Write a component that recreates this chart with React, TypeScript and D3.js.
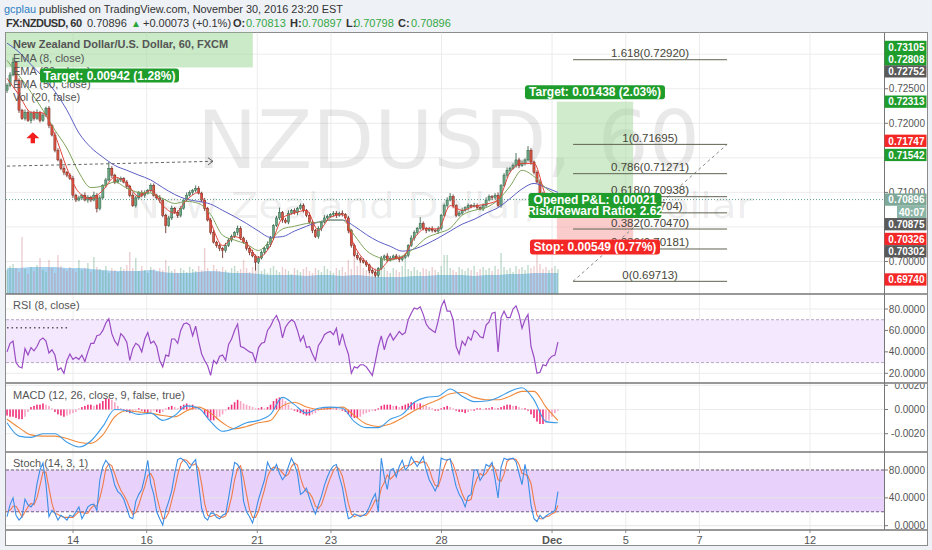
import React from "react";
import * as d3 from "d3";

// ---------------- data ----------------
// time axis (trading-day units, 0 = Nov 14)
const timeTickDays = [0, 2, 5, 7, 10, 13, 15, 17, 20];
const timeTickLabels = ["14", "16", "21", "23", "28", "Dec", "5", "7", "12"];
const firstBarDay = -1.79;
const lastBarDay = 13.16;
const COARSE_STEP = 4; // smooth series sampled every 4 bars
const PIP = 0.0001;

const firstOpen = 0.7248;
const closes = [
  0.7255, 0.727, 0.7288, 0.7262, 0.7219, 0.7207, 0.7216, 0.7204, 0.7215, 0.7207,
  0.7216, 0.7204, 0.7212, 0.7222, 0.7197, 0.7183, 0.7161, 0.7147, 0.7135, 0.7129,
  0.7125, 0.712, 0.7096, 0.7089, 0.7092, 0.7096, 0.7089, 0.7093, 0.7089, 0.7096,
  0.7077, 0.7092, 0.711, 0.7118, 0.7135, 0.7125, 0.7115, 0.7118, 0.712, 0.7115,
  0.7109, 0.7096, 0.7081, 0.7092, 0.71, 0.7096, 0.7099, 0.7103, 0.711, 0.7096,
  0.7092, 0.7089, 0.7067, 0.7052, 0.7063, 0.7077, 0.7071, 0.7067, 0.7077, 0.7089,
  0.7096, 0.71, 0.7103, 0.7106, 0.7099, 0.7089, 0.7077, 0.706, 0.7042, 0.7028,
  0.7023, 0.7019, 0.7016, 0.7023, 0.7031, 0.7036, 0.7042, 0.7048, 0.7034, 0.7028,
  0.7019, 0.7013, 0.7008, 0.6999, 0.7005, 0.7013, 0.7019, 0.7025, 0.7034, 0.7052,
  0.7063, 0.7071, 0.706, 0.7057, 0.707, 0.7074, 0.7071, 0.7077, 0.7081, 0.7074,
  0.7067, 0.7057, 0.7045, 0.7036, 0.7048, 0.7057, 0.7063, 0.7065, 0.7068, 0.707,
  0.7067, 0.707, 0.7068, 0.7063, 0.7045, 0.7023, 0.7009, 0.7005, 0.7002, 0.6999,
  0.6995, 0.6987, 0.6984, 0.698, 0.699, 0.7005, 0.7008, 0.7002, 0.7005, 0.7008,
  0.7005, 0.7003, 0.7006, 0.7009, 0.7023, 0.7034, 0.7042, 0.7048, 0.7055, 0.7048,
  0.7045, 0.7047, 0.7045, 0.7044, 0.7048, 0.7067, 0.7081, 0.7089, 0.7094, 0.7081,
  0.7067, 0.707, 0.7074, 0.7078, 0.7081, 0.708, 0.7081, 0.7078, 0.7076, 0.7081,
  0.7089, 0.7094, 0.7093, 0.7096, 0.7081, 0.711, 0.7125, 0.7132, 0.7135, 0.7139,
  0.7147, 0.7139, 0.7142, 0.7147, 0.7161, 0.7144, 0.7129, 0.7115, 0.7099, 0.7084,
  0.7078, 0.7081, 0.708, 0.7082, 0.709,
];
const wickUpPips = [
  3, 4, 7, 2, 3, 2, 4, 3, 2, 3, 4, 2, 3, 2, 3, 2, 4, 3, 2, 3,
  2, 3, 4, 2, 3, 2, 4, 3, 2, 5, 3, 4, 2, 3, 9, 3, 2, 4, 3, 2,
  3, 2, 4, 3, 2, 3, 4, 2, 3, 3, 2, 4, 3, 2, 3, 4, 2, 3, 3, 2,
  4, 3, 2, 4, 3, 2, 3, 2, 3, 4, 2, 3, 2, 4, 3, 3, 2, 4, 3, 2,
  3, 2, 4, 2, 3, 3, 2, 4, 3, 2, 3, 7, 2, 3, 4, 2, 3, 2, 3, 3,
  2, 4, 3, 2, 3, 2, 4, 3, 2, 3, 3, 2, 4, 2, 3, 2, 3, 4, 2, 3,
  3, 2, 4, 3, 2, 3, 2, 4, 3, 2, 3, 4, 2, 3, 2, 4, 3, 2, 9, 3,
  2, 3, 4, 2, 3, 2, 3, 4, 5, 3, 2, 3, 4, 2, 3, 2, 4, 3, 2, 3,
  4, 3, 2, 3, 4, 2, 3, 4, 2, 3, 10, 3, 4, 2, 6, 3, 2, 3, 4, 2,
  3, 2, 4, 3, 2,
];
const wickDnPips = [
  4, 3, 2, 3, 4, 2, 3, 2, 4, 3, 2, 3, 2, 3, 4, 2, 3, 2, 3, 4,
  3, 2, 4, 3, 2, 3, 2, 4, 3, 2, 6, 3, 2, 3, 2, 4, 3, 2, 3, 2,
  4, 3, 2, 3, 2, 3, 4, 2, 3, 2, 3, 4, 3, 11, 2, 3, 2, 4, 3, 2,
  3, 2, 4, 3, 2, 3, 4, 2, 3, 2, 3, 4, 11, 3, 2, 3, 2, 4, 3, 2,
  3, 4, 2, 12, 3, 2, 3, 2, 4, 3, 2, 3, 4, 2, 3, 2, 3, 4, 2, 3,
  3, 2, 4, 2, 3, 4, 2, 3, 2, 3, 4, 2, 3, 2, 4, 3, 2, 3, 4, 2,
  3, 4, 2, 3, 3, 2, 4, 3, 2, 3, 2, 4, 3, 2, 3, 2, 4, 3, 2, 3,
  4, 2, 3, 2, 4, 3, 2, 3, 2, 4, 3, 2, 3, 2, 4, 3, 2, 3, 2, 3,
  3, 2, 4, 3, 2, 3, 2, 4, 3, 2, 3, 4, 2, 3, 2, 4, 3, 2, 3, 4,
  3, 2, 3, 2, 3,
];
const volumes = [
  24, 28, 30, 26, 22, 57, 25, 20, 27, 23, 29, 36, 24, 22, 34, 26, 21, 39, 28, 25,
  23, 27, 25, 22, 34, 24, 26, 31, 22, 37, 27, 25, 23, 28, 21, 26, 24, 22, 27, 25,
  29, 42, 26, 36, 23, 28, 24, 21, 27, 25, 22, 26, 24, 34, 28, 23, 25, 21, 26, 24,
  22, 27, 25, 23, 28, 24, 46, 26, 22, 29, 25, 23, 27, 24, 21, 26, 28, 23, 25, 34,
  26, 22, 27, 24, 29, 23, 25, 21, 26, 28, 24, 22, 27, 25, 23, 20, 26, 24, 22, 25,
  27, 23, 21, 26, 24, 22, 28, 25, 23, 21, 26, 24, 27, 22, 34, 25, 39, 28, 34, 26,
  24, 28, 23, 26, 22, 25, 27, 23, 21, 26, 24, 22, 28, 36, 25, 23, 27, 24, 22, 26,
  25, 23, 27, 24, 22, 28, 39, 39, 26, 24, 22, 27, 25, 23, 26, 24, 28, 22, 25, 27,
  24, 26, 23, 28, 25, 41, 27, 24, 26, 22, 28, 25, 27, 24, 29, 26, 28, 44, 30, 25,
  27, 24, 26, 28, 25,
];
// smooth series (one value every COARSE_STEP bars)
const volumeMA = [
  26, 26, 27, 27, 27, 26, 26, 25, 24, 23, 23, 23, 24, 22, 21, 21, 22, 23, 22, 21,
  21, 20, 19, 19, 19, 18, 19, 19, 18, 19, 18, 17, 17, 17, 18, 18, 19, 19, 19, 18,
  19, 19, 20, 20, 21, 21, 21,
];
const ema8 = [
  0.7265, 0.7241, 0.7216, 0.7215, 0.7183, 0.7135, 0.71, 0.7091, 0.7103, 0.7122,
  0.7113, 0.7094, 0.7103, 0.7081, 0.707, 0.7089, 0.71, 0.7057, 0.7023, 0.7036,
  0.7026, 0.7006, 0.7023, 0.7063, 0.707, 0.7074, 0.7045, 0.7064, 0.7068, 0.7023,
  0.6999, 0.6987, 0.7003, 0.7006, 0.7034, 0.7048, 0.7047, 0.7081, 0.7074, 0.708,
  0.7083, 0.7089, 0.7129, 0.7142, 0.7142, 0.7096, 0.7084,
];
const ema20 = [
  0.7291, 0.7269, 0.7245, 0.7219, 0.719, 0.7164, 0.7129, 0.7107, 0.7109, 0.7115,
  0.7106, 0.71, 0.7099, 0.7091, 0.7084, 0.7087, 0.7084, 0.7068, 0.7038, 0.7031,
  0.7025, 0.7016, 0.7031, 0.7047, 0.7051, 0.7055, 0.7057, 0.706, 0.706, 0.7038,
  0.7016, 0.7006, 0.7002, 0.7008, 0.7019, 0.7034, 0.7041, 0.7048, 0.7067, 0.7074,
  0.7078, 0.7089, 0.7109, 0.7132, 0.7123, 0.7106, 0.7096,
];
const ema50 = [
  0.7316, 0.7303, 0.7285, 0.7267, 0.7246, 0.7219, 0.7186, 0.7165, 0.7151, 0.7139,
  0.7132, 0.7125, 0.7118, 0.7107, 0.7097, 0.709, 0.7087, 0.7083, 0.7074, 0.7065,
  0.7055, 0.7044, 0.7035, 0.7036, 0.7044, 0.7051, 0.7057, 0.706, 0.706, 0.7051,
  0.7039, 0.7029, 0.7022, 0.7015, 0.7018, 0.7025, 0.7034, 0.7044, 0.7054, 0.7061,
  0.707, 0.7078, 0.7091, 0.7105, 0.7113, 0.7107, 0.71,
];
const rsi = [
  40, 48, 50, 30, 26, 25, 43, 37, 44, 41,
  45, 51, 53, 50, 39, 42, 37, 23, 25, 20,
  32, 38, 33, 35, 33, 37, 31, 40, 48, 48,
  55, 56, 60, 67, 71, 57, 50, 46, 57, 54,
  49, 32, 43, 48, 46, 40, 52, 58, 48, 50,
  45, 32, 26, 37, 36, 52, 52, 48, 60, 66,
  67, 65, 55, 64, 50, 38, 32, 27, 18, 32,
  29, 36, 37, 32, 47, 52, 60, 66, 45, 44,
  42, 40, 39, 31, 44, 48, 49, 60, 64, 70,
  74, 67, 53, 63, 67, 70, 68, 60, 50, 55,
  44, 45, 38, 32, 46, 50, 56, 58, 59, 56,
  62, 46, 57, 46, 38, 20, 26, 25, 28, 28,
  26, 22, 18, 31, 45, 55, 42, 52, 57, 51,
  55, 59, 56, 58, 70, 76, 81, 80, 82, 75,
  66, 62, 60, 58, 69, 82, 88, 78, 78, 70,
  45, 38, 50, 46, 54, 51, 60, 58, 54, 53,
  65, 68, 76, 77, 40, 72, 78, 72, 72, 80,
  83, 75, 62, 70, 75, 45, 35, 20, 21, 28,
  27, 33, 36, 37, 49,
];
const rsiDrawLevel = 62.6;
const rsiDrawDays = [-1.79, -0.08];
// MACD in units of 0.0001
const macdLine = [
  -11, -22, -23, -20, -20, -27, -31, -26, -14, 0,
  -1, -4, -3, -9, -5, 3, 1, -10, -18, -15.5,
  -11, -9, -4, 10, 4, -3, 1, 2, 1, -10,
  -15, -15, -8, -4, 6, 10, 11, 17, 11, 6.5,
  7, 10, 15, 18, 8, -10, -11,
];
const macdSignal = [
  -8, -15, -21, -22, -22, -24, -27, -28, -21, -6,
  -1, -2, -3, -5, -6, -1, 2, -3, -11, -16,
  -14, -11, -9, 3, 6, 2, 0, 1, 2, -5,
  -12, -14, -12, -7, -1, 4, 8, 13, 14, 10,
  8, 8, 11, 15, 15, 2, -9,
];
const macdHist = [
  -5, -6, -6, -7, -8, -8, -6, -2, 2, 3,
  4, 4, 5, 4, 3, 1, -2, -4, -5, -6,
  -5, -4, -3, -2, 1, 2, 3, 4, 4, 3,
  4, 5, 7, 9, 9, 8, 6, 3, 1, -1,
  -2, -3, -2, -1, 1, -1, -2, -3, -2, -1,
  -2, -3, -2, 1, 2, 3, 2, 1, 3, 4,
  5, 4, 4, 3, 2, -1, -4, -7, -9, -9,
  -8, -6, -4, -1, 2, 4, 6, 8, 7, 5,
  4, 3, 2, 1, 1, 2, 1, 2, 4, 7,
  9, 10, 9, 7, 4, 1, -1, -2, -3, -4,
  -5, -5, -4, -3, -1, 1, 1, 2, 2, 1,
  1, 0, -1, -2, -4, -6, -7, -7, -6, -4,
  -3, -2, -1, -1, 1, 3, 4, 4, 4, 3,
  3, 2, 3, 4, 5, 6, 6, 5, 5, 4,
  3, 2, 1, -1, -1, 1, 2, 3, 2, 1,
  -1, -2, -2, -3, -2, -1, -1, 1, 1, 0,
  1, 1, 2, 1, 1, 2, 3, 4, 4, 3,
  3, 2, 1, 1, -1, -4, -7, -10, -12, -12,
  -11, -9, -6, -3, -1,
];
const stochK = [
  13, 30, 40, 15, 8, 13, 38, 30, 27, 33,
  60, 80, 90, 60, 13, 22, 18, 8, 15, 12,
  8, 15, 13, 20, 27, 10, 18, 27, 30, 31,
  22, 66, 85, 94, 88, 76, 58, 49, 45, 38,
  25, 12, 10, 35, 45, 52, 70, 94, 60, 45,
  20, 10, 1, 22, 35, 50, 75, 95, 97, 94,
  90, 82, 90, 95, 60, 25, 12, 8, 18, 18,
  12, 10, 15, 17, 40, 66, 91, 88, 80, 35,
  20, 13, 4, 20, 38, 52, 66, 91, 82, 80,
  88, 75, 66, 72, 85, 97, 88, 75, 45, 48,
  54, 40, 27, 17, 30, 42, 58, 70, 80, 86,
  88, 70, 55, 30, 10, 12, 17, 15, 13, 15,
  18, 27, 38, 46, 20, 97, 70, 52, 80, 82,
  70, 85, 94, 80, 85, 99, 92, 85, 92, 99,
  80, 66, 58, 50, 60, 97, 95, 94, 96, 75,
  56, 45, 38, 27, 42, 45, 80, 80, 65, 72,
  88, 85, 91, 67, 40, 84, 97, 95, 96, 97,
  92, 75, 59, 88, 66, 30, 10, 6, 15, 10,
  14, 17, 19, 22, 49,
];
const stochD = [
  20, 22, 28, 28, 21, 12, 20, 27, 32, 30,
  40, 58, 77, 77, 54, 32, 18, 16, 14, 12,
  12, 12, 12, 16, 20, 19, 18, 18, 25, 29,
  28, 40, 58, 82, 89, 86, 74, 61, 51, 44,
  36, 25, 16, 19, 30, 44, 56, 72, 75, 66,
  42, 25, 10, 11, 19, 36, 53, 73, 89, 95,
  94, 89, 87, 89, 82, 60, 32, 15, 13, 15,
  16, 13, 12, 14, 24, 41, 66, 82, 86, 68,
  45, 23, 12, 12, 21, 37, 52, 70, 80, 84,
  83, 81, 76, 71, 74, 85, 90, 87, 69, 56,
  49, 47, 40, 28, 25, 30, 43, 57, 69, 79,
  85, 81, 71, 52, 32, 17, 13, 15, 15, 15,
  15, 20, 28, 37, 35, 54, 62, 73, 67, 71,
  77, 79, 83, 86, 86, 88, 92, 92, 90, 92,
  90, 82, 68, 58, 56, 69, 84, 95, 95, 88,
  75, 59, 46, 37, 36, 38, 56, 68, 75, 72,
  75, 82, 88, 81, 66, 64, 74, 92, 96, 96,
  95, 88, 75, 74, 71, 61, 35, 15, 10, 10,
  13, 14, 17, 19, 29,
];

// drawings
const oldPosition = { startDay: -2.9, endDay: 4.88, entry: 0.72808, target: 0.7375, label: "Target: 0.00942 (1.28%)" };
const position = {
  startDay: 13.13, endDay: 15.2, entry: 0.70875, target: 0.72313, stop: 0.70326,
  targetLabel: "Target: 0.01438 (2.03%)", pnlLabel: "Opened P&L: 0.00021", rrLabel: "Risk/Reward Ratio: 2.62",
  stopLabel: "Stop: 0.00549 (0.77%)",
};
const fibStartDay = 13.57;
const fibEndDay = 17.75;
const fibRatios = [1.618, 1, 0.786, 0.618, 0.5, 0.382, 0.236, 0];
const fibPrices = [0.7292, 0.71695, 0.71271, 0.70938, 0.70704, 0.7047, 0.70181, 0.69713];
const dashedArrow = { d0: -1.79, p0: 0.7138, d1: 3.8, p1: 0.7145 };
const redArrow = { day: -1.09, price: 0.7187 };
const lastPrice = 0.70896;
const countdown = "40:07";

const priceTicks = [0.73, 0.725, 0.72, 0.715, 0.71, 0.705, 0.7];
const rsiTicks = [20, 40, 60, 80];
const macdTicks = [-20, 0, 20];
const stochTicks = [0, 40, 80];

const GREEN = "#1f9d2c";
const RED = "#f42727";
const DARK = "#5a5a5a";
const axisBadges = [
  { v: 0.70896, bg: "#7ea898", countdown: true },
  { v: 0.72752, bg: DARK },
  { v: 0.73105, bg: GREEN },
  { v: 0.72313, bg: GREEN },
  { v: 0.71747, bg: RED },
  { v: 0.71542, bg: GREEN },
  { v: 0.70326, bg: RED },
  { v: 0.6974, bg: RED },
  { v: 0.72808, bg: GREEN },
  { v: 0.70875, bg: DARK },
  { v: 0.70302, bg: DARK },
];

// ---------------- layout ----------------
const FONT = "'Liberation Sans', Arial, Helvetica, sans-serif";
const L = 6, R = 884, AX_R = 927;
const P_TOP = 32.5, P_BOT = 294, RSI_BOT = 383, MACD_BOT = 452, ST_BOT = 530, BOTTOM = 545.5;

export default function App() {
  const N = closes.length;
  const x = d3.scaleLinear().domain([0, 20]).range([73, 810]);
  const barDay = (i: number) => firstBarDay + (i * (lastBarDay - firstBarDay)) / (N - 1);
  const coarseDay = (j: number) => barDay(j * COARSE_STEP);

  const yP = d3.scaleLinear().domain([0.7, 0.72]).range([261.5, 123.3]);
  const yV = d3.scaleLinear().domain([0, 60]).range([P_BOT, P_BOT - 60]);
  const yR = d3.scaleLinear().domain([20, 80]).range([373.3, 309]);
  const yM = d3.scaleLinear().domain([-20, 20]).range([433.7, 385.3]);
  const yS = d3.scaleLinear().domain([0, 80]).range([525.7, 470]);

  const candles = closes.map((c, i) => {
    const o = i === 0 ? firstOpen : closes[i - 1];
    return {
      i, o, c,
      hi: Math.max(o, c) + wickUpPips[i] * PIP,
      lo: Math.min(o, c) - wickDnPips[i] * PIP,
      up: c >= o,
    };
  });

  const coarseLine = (ys: (v: number) => number) =>
    d3.line<number>().x((_, j) => x(coarseDay(j))).y((v) => ys(v)).curve(d3.curveMonotoneX);
  const barLine = (ys: (v: number) => number) =>
    d3.line<number>().x((_, i) => x(barDay(i))).y((v) => ys(v));

  const volArea = d3
    .area<number>()
    .x((_, j) => x(coarseDay(j)))
    .y0(P_BOT)
    .y1((v) => yV(v))
    .curve(d3.curveMonotoneX);

  // axis badge placement with simple collision avoidance
  const BH = 12.3;
  const placed: { top: number; bot: number; c: number }[] = [];
  const badgeLayout = axisBadges.map((b) => {
    const c = yP(b.v);
    const h = b.countdown ? BH * 2 : BH;
    let top = c - BH / 2;
    for (let k = 0; k < 8; k++) {
      const hit = placed.find((p) => top < p.bot - 1 && top + h > p.top + 1);
      if (!hit) break;
      if (c < hit.c) top = hit.top - h;
      else top = hit.bot;
    }
    placed.push({ top, bot: top + h, c });
    return { ...b, top };
  });

  const gridDays = timeTickDays;
  const fibX0 = x(fibStartDay), fibX1 = x(fibEndDay);
  const posX0 = x(position.startDay), posX1 = x(position.endDay);
  const posCx = (posX0 + posX1) / 2;
  const oldX0 = x(oldPosition.startDay), oldX1 = x(oldPosition.endDay);
  const oldCx = (oldX0 + oldX1) / 2;

  const vGrid = (y1: number, y2: number) =>
    gridDays.map((d, k) => (
      <line key={"vg" + k + y1} x1={x(d)} x2={x(d)} y1={y1} y2={y2} stroke="#ececec" strokeWidth={1} />
    ));

  const axisLabel = (y: number, text: string, key: string) => (
    <g key={key}>
      <line x1={R} x2={R + 4} y1={y} y2={y} stroke="#777" />
      <text x={AX_R - 2} y={y} dominantBaseline="central" textAnchor="end" fontSize={10} fill="#555" fontFamily={FONT}>
        {text}
      </text>
    </g>
  );

  const legend = (x0: number, y0: number, text: string, key: string, weight = 400) => (
    <text key={key} x={x0} y={y0} fontSize={11} fill="#555" fontFamily={FONT} fontWeight={weight}>
      {text}
    </text>
  );

  const histColor = (i: number) => {
    const prev = i > 0 ? macdHist[i - 1] : 0;
    const v = macdHist[i];
    return Math.abs(v) >= Math.abs(prev) ? "#f0307a" : "#f6a3c4";
  };

  return (
    <svg width={932} height={550} style={{ position: "absolute", left: 0, top: 0, display: "block" }} fontFamily={FONT}>
      <defs>
        <clipPath id="cp-price"><rect x={L} y={P_TOP} width={R - L} height={P_BOT - P_TOP} /></clipPath>
        <clipPath id="cp-rsi"><rect x={L} y={P_BOT} width={R - L} height={RSI_BOT - P_BOT} /></clipPath>
        <clipPath id="cp-macd"><rect x={L} y={RSI_BOT} width={R - L} height={MACD_BOT - RSI_BOT} /></clipPath>
        <clipPath id="cp-stoch"><rect x={L} y={MACD_BOT} width={R - L} height={ST_BOT - MACD_BOT} /></clipPath>
        <clipPath id="cp-macd-axis"><rect x={R} y={RSI_BOT + 1} width={AX_R - R} height={MACD_BOT - RSI_BOT - 1} /></clipPath>
      </defs>

      {/* page background & header */}
      <rect x={0} y={0} width={932} height={550} fill="#eef1f5" />
      <text x={4} y={12.5} fontSize={10.9} fill="#333">
        <tspan fill="#2d7fc1">gcplau</tspan>
        <tspan> published on TradingView.com, November 30, 2016 23:20 EST</tspan>
      </text>
      <g fontSize={11} fill="#333">
        <text x={6} y={26.5} fontWeight={700} textLength={76}>FX:NZDUSD, 60</text>
        <text x={87} y={26.5}>0.70896</text>
        <text x={131} y={26.5} fill="#2aa53a" fontSize={10}>▲</text>
        <text x={143} y={26.5}>+0.00073 (+0.1%)</text>
        <text x={233} y={26.5} fontWeight={700}>O:</text>
        <text x={246} y={26.5} fill="#35a845">0.70813</text>
        <text x={290} y={26.5} fontWeight={700}>H:</text>
        <text x={302} y={26.5} fill="#35a845">0.70897</text>
        <text x={346} y={26.5} fontWeight={700}>L:</text>
        <text x={354} y={26.5} fill="#35a845">0.70798</text>
        <text x={398} y={26.5} fontWeight={700}>C:</text>
        <text x={411} y={26.5} fill="#35a845">0.70896</text>
      </g>

      {/* chart frame */}
      <rect x={5.5} y={P_TOP} width={AX_R - 5} height={BOTTOM - P_TOP} fill="#ffffff" stroke="#8c8c8c" strokeWidth={1} />

      {/* ---------- price pane ---------- */}
      <g clipPath="url(#cp-price)">
        {vGrid(P_TOP, P_BOT)}
        {priceTicks.map((t) => (
          <line key={"pg" + t} x1={L} x2={R} y1={yP(t)} y2={yP(t)} stroke="#ececec" />
        ))}
        {/* watermark */}
        <text x={197} y={168} fontSize={80} fill="#000" fillOpacity={0.085} textLength={503} lengthAdjust="spacingAndGlyphs" fontFamily="'DejaVu Sans', sans-serif">
          NZDUSD, 60
        </text>
        <text x={130} y={218} fontSize={35} fill="#000" fillOpacity={0.085} textLength={623} lengthAdjust="spacingAndGlyphs" fontFamily="'DejaVu Sans', sans-serif">
          New Zealand Dollar/U.S. Dollar
        </text>

        {/* old long position target zone */}
        <rect x={oldX0} y={yP(oldPosition.target)} width={oldX1 - oldX0} height={yP(oldPosition.entry) - yP(oldPosition.target)} fill="#9fd89a" fillOpacity={0.55} />

        {/* current long position zones */}
        <rect x={posX0} y={yP(position.target)} width={posX1 - posX0} height={yP(position.entry) - yP(position.target)} fill="#9fd89a" fillOpacity={0.5} />
        <rect x={posX0} y={yP(position.entry)} width={posX1 - posX0} height={yP(position.stop) - yP(position.entry)} fill="#f5a3a3" fillOpacity={0.55} />

        {/* volume */}
        <path d={volArea(volumeMA) || ""} fill="#9ccdee" fillOpacity={0.9} />
        {volumes.map((v, i) => (
          <rect
            key={"v" + i}
            x={x(barDay(i)) - 0.7}
            y={yV(v)}
            width={1.4}
            height={P_BOT - yV(v)}
            fill={candles[i].up ? "rgba(90,160,120,0.38)" : "rgba(200,110,120,0.34)"}
          />
        ))}

        {/* candles */}
        {candles.map((d) => {
          const cx = x(barDay(d.i));
          const yt = yP(Math.max(d.o, d.c));
          const yb = yP(Math.min(d.o, d.c));
          const edge = d.up ? "#225437" : "#5b1a13";
          return (
            <g key={"c" + d.i}>
              <line x1={cx} x2={cx} y1={yP(d.hi)} y2={yP(d.lo)} stroke={edge} strokeWidth={0.8} />
              <rect x={cx - 1.1} y={yt} width={2.2} height={Math.max(0.8, yb - yt)} fill={d.up ? "#6ba583" : "#d75442"} stroke={edge} strokeWidth={0.4} />
            </g>
          );
        })}

        {/* EMAs */}
        <path d={coarseLine(yP)(ema50) || ""} fill="none" stroke="#5c5ec4" strokeWidth={1} />
        <path d={coarseLine(yP)(ema20) || ""} fill="none" stroke="#7fa35a" strokeWidth={1} />
        <path d={coarseLine(yP)(ema8) || ""} fill="none" stroke="#e0433a" strokeWidth={1} />

        {/* last price line */}
        <line x1={L} x2={R} y1={yP(lastPrice)} y2={yP(lastPrice)} stroke="#5e9e8c" strokeDasharray="1,2" />

        {/* fibonacci */}
        <line x1={fibX0} y1={yP(fibPrices[fibPrices.length - 1])} x2={fibX1} y2={yP(fibPrices[1])} stroke="#888" strokeDasharray="3,3" />
        {fibRatios.map((r, k) => (
          <g key={"fib" + k}>
            <line x1={fibX0} x2={fibX1} y1={yP(fibPrices[k])} y2={yP(fibPrices[k])} stroke="#5f6450" strokeWidth={1} />
            <text x={(fibX0 + fibX1) / 2} y={yP(fibPrices[k]) - 2.5} textAnchor="middle" fontSize={11.5} fill="#454538">
              {`${r}(${fibPrices[k].toFixed(5)})`}
            </text>
          </g>
        ))}

        {/* dashed arrow drawing */}
        <line x1={x(dashedArrow.d0)} y1={yP(dashedArrow.p0)} x2={x(dashedArrow.d1)} y2={yP(dashedArrow.p1)} stroke="#666" strokeDasharray="3,2.5" />
        <path
          d={`M${x(dashedArrow.d1) - 5},${yP(dashedArrow.p1) - 3.5} L${x(dashedArrow.d1)},${yP(dashedArrow.p1)} L${x(dashedArrow.d1) - 5},${yP(dashedArrow.p1) + 3.5}`}
          fill="none"
          stroke="#666"
        />

        {/* red arrow marker */}
        {(() => {
          const ax = x(redArrow.day), ay = yP(redArrow.price);
          return (
            <path
              d={`M${ax},${ay} L${ax + 6.5},${ay + 6} L${ax + 2.2},${ay + 6} L${ax + 2.2},${ay + 11} L${ax - 2.2},${ay + 11} L${ax - 2.2},${ay + 6} L${ax - 6.5},${ay + 6} Z`}
              fill="#f31d1d"
            />
          );
        })()}

        {/* legends */}
        {legend(13, 48, "New Zealand Dollar/U.S. Dollar, 60, FXCM", "lg0", 600)}
        {legend(13, 61.5, "EMA (8, close)", "lg1")}
        {legend(13, 74.8, "EMA (20, close)", "lg2")}
        {legend(13, 88, "EMA (50, close)", "lg3")}
        {legend(13, 101, "Vol (20, false)", "lg4")}

        {/* position labels */}
        <rect x={oldCx - 69.5} y={yP(oldPosition.entry) + 1} width={139} height={14} rx={3} fill={GREEN} />
        <text x={oldCx} y={yP(oldPosition.entry) + 8.2} textAnchor="middle" dominantBaseline="central" fontSize={12} fontWeight={700} fill="#fff">
          {oldPosition.label}
        </text>

        <rect x={posCx - 70} y={yP(position.target) - 16.5} width={140} height={14} rx={3} fill={GREEN} />
        <text x={posCx} y={yP(position.target) - 9.3} textAnchor="middle" dominantBaseline="central" fontSize={12} fontWeight={700} fill="#fff">
          {position.targetLabel}
        </text>

        <rect x={posCx - 66.5} y={yP(position.entry) - 8} width={133} height={25} rx={3} fill={GREEN} />
        <text x={posCx} y={yP(position.entry) - 1.5} textAnchor="middle" dominantBaseline="central" fontSize={12} fontWeight={700} fill="#fff">
          {position.pnlLabel}
        </text>
        <text x={posCx} y={yP(position.entry) + 10} textAnchor="middle" dominantBaseline="central" fontSize={12} fontWeight={700} fill="#fff">
          {position.rrLabel}
        </text>

        <rect x={posCx - 65} y={yP(position.stop) + 0.5} width={130} height={15} rx={3} fill={RED} />
        <text x={posCx} y={yP(position.stop) + 8} textAnchor="middle" dominantBaseline="central" fontSize={12} fontWeight={700} fill="#fff">
          {position.stopLabel}
        </text>
      </g>

      {/* ---------- RSI pane ---------- */}
      <g clipPath="url(#cp-rsi)">
        {vGrid(P_BOT, RSI_BOT)}
        {rsiTicks.map((t) => (
          <line key={"rg" + t} x1={L} x2={R} y1={yR(t)} y2={yR(t)} stroke="#ececec" />
        ))}
        <rect x={L} y={yR(70)} width={R - L} height={yR(30) - yR(70)} fill="#f3e8fd" />
        <line x1={L} x2={R} y1={yR(70)} y2={yR(70)} stroke="#b5a9c6" strokeDasharray="3,2" />
        <line x1={L} x2={R} y1={yR(30)} y2={yR(30)} stroke="#b5a9c6" strokeDasharray="3,2" />
        <path d={barLine(yR)(rsi) || ""} fill="none" stroke="#9a4cc4" strokeWidth={1.2} />
        <line x1={x(rsiDrawDays[0])} x2={x(rsiDrawDays[1])} y1={yR(rsiDrawLevel)} y2={yR(rsiDrawLevel)} stroke="#555" strokeWidth={1.5} strokeDasharray="1.5,3" />
        {legend(13, 309, "RSI (8, close)", "lgr")}
      </g>

      {/* ---------- MACD pane ---------- */}
      <g clipPath="url(#cp-macd)">
        {vGrid(RSI_BOT, MACD_BOT)}
        {macdTicks.map((t) => (
          <line key={"mg" + t} x1={L} x2={R} y1={yM(t)} y2={yM(t)} stroke="#ececec" />
        ))}
        {macdHist.map((v, i) => (
          <rect
            key={"h" + i}
            x={x(barDay(i)) - 0.8}
            y={Math.min(yM(v), yM(0))}
            width={1.6}
            height={Math.max(0.6, Math.abs(yM(v) - yM(0)))}
            fill={histColor(i)}
          />
        ))}
        <path d={coarseLine(yM)(macdSignal) || ""} fill="none" stroke="#f08a3c" strokeWidth={1.1} />
        <path d={coarseLine(yM)(macdLine) || ""} fill="none" stroke="#3b9be8" strokeWidth={1.1} />
        {legend(13, 398.5, "MACD (12, 26, close, 9, false, true)", "lgm")}
      </g>

      {/* ---------- Stoch pane ---------- */}
      <g clipPath="url(#cp-stoch)">
        {vGrid(MACD_BOT, ST_BOT)}
        <rect x={L} y={yS(80)} width={R - L} height={yS(20) - yS(80)} fill="#e8d2fb" />
        {stochTicks.map((t) => (
          <line key={"sg" + t} x1={L} x2={R} y1={yS(t)} y2={yS(t)} stroke="#e4e4e4" />
        ))}
        <line x1={L} x2={R} y1={yS(80)} y2={yS(80)} stroke="#6c5b7e" strokeDasharray="3,2" />
        <line x1={L} x2={R} y1={yS(20)} y2={yS(20)} stroke="#6c5b7e" strokeDasharray="3,2" />
        <path d={barLine(yS)(stochD) || ""} fill="none" stroke="#ee7a4c" strokeWidth={1.1} />
        <path d={barLine(yS)(stochK) || ""} fill="none" stroke="#3a8ee6" strokeWidth={1.1} />
        {legend(13, 466.5, "Stoch (14, 3, 1)", "lgs")}
      </g>

      {/* time axis grid continuation & labels */}
      {timeTickDays.map((d, k) => (
        <g key={"tt" + k}>
          <line x1={x(d)} x2={x(d)} y1={ST_BOT} y2={ST_BOT + 3} stroke="#888" />
          <text x={x(d)} y={539.5} textAnchor="middle" dominantBaseline="central" fontSize={11} fill="#555" fontWeight={timeTickLabels[k] === "Dec" ? 700 : 400}>
            {timeTickLabels[k]}
          </text>
        </g>
      ))}

      {/* separators */}
      {[P_BOT, RSI_BOT, MACD_BOT, ST_BOT].map((y) => (
        <line key={"sep" + y} x1={L} x2={AX_R} y1={y} y2={y} stroke="#767676" strokeWidth={1.3} />
      ))}
      <line x1={R + 0.5} x2={R + 0.5} y1={P_TOP} y2={ST_BOT} stroke="#767676" strokeWidth={1} />

      {/* ---------- right axis ---------- */}
      {priceTicks.map((t) => axisLabel(yP(t), t.toFixed(5), "pl" + t))}
      {rsiTicks.map((t) => axisLabel(yR(t), t.toFixed(4), "rl" + t))}
      <g clipPath="url(#cp-macd-axis)">
        {macdTicks.map((t) => axisLabel(yM(t), (t / 10000).toFixed(4), "ml" + t))}
      </g>
      {stochTicks.map((t) => axisLabel(yS(t), t.toFixed(4), "sl" + t))}

      {badgeLayout.map((b, k) => (
        <g key={"bd" + k}>
          <rect x={R + 0.5} y={b.top} width={AX_R - R - 1} height={BH} fill={b.bg} />
          <text x={AX_R - 2.5} y={b.top + BH / 2 + 0.3} textAnchor="end" dominantBaseline="central" fontSize={10} fontWeight={700} fill="#fff">
            {b.v.toFixed(5)}
          </text>
          {b.countdown && (
            <g>
              <rect x={897} y={b.top + BH} width={AX_R - 897 - 0.5} height={BH} fill="#8cb6a7" />
              <text x={AX_R - 2.5} y={b.top + BH * 1.5 + 0.3} textAnchor="end" dominantBaseline="central" fontSize={10} fontWeight={700} fill="#fff">
                {countdown}
              </text>
            </g>
          )}
        </g>
      ))}
    </svg>
  );
}
